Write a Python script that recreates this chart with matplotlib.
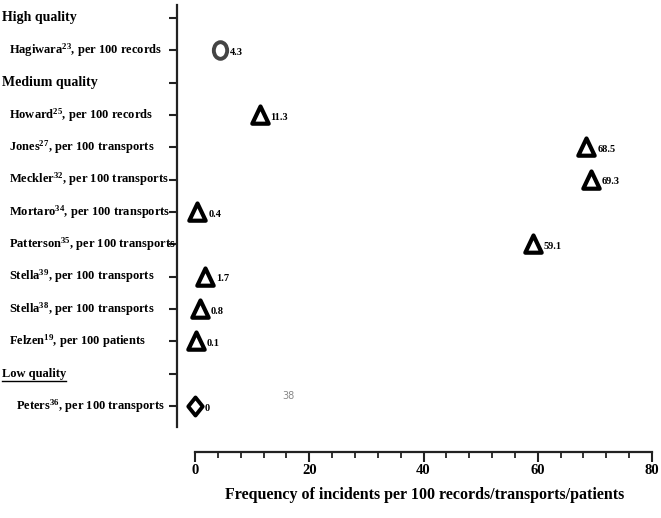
import matplotlib
matplotlib.use("Agg")
import matplotlib.pyplot as plt
from matplotlib import transforms
from matplotlib.lines import Line2D
from matplotlib.path import Path
from matplotlib.transforms import Affine2D

plt.rcParams['font.family'] = ['Liberation Serif', 'DejaVu Serif']
plt.rcParams['font.weight'] = 'bold'
plt.rcParams['mathtext.fontset'] = 'custom'
plt.rcParams['mathtext.rm'] = 'Liberation Serif:bold'
plt.rcParams['mathtext.bf'] = 'Liberation Serif:bold'
plt.rcParams['mathtext.it'] = 'Liberation Serif:bold'

# ---- data ----
row_labels = [
    "High quality",
    r"Hagiwara$^{23}$, per 100 records",
    "Medium quality",
    r"Howard$^{25}$, per 100 records",
    r"Jones$^{27}$, per 100 transports",
    r"Meckler$^{32}$, per 100 transports",
    r"Mortaro$^{34}$, per 100 transports",
    r"Patterson$^{35}$, per 100 transports",
    r"Stella$^{39}$, per 100 transports",
    r"Stella$^{38}$, per 100 transports",
    r"Felzen$^{19}$, per 100 patients",
    "Low quality",
    r"Peters$^{36}$, per 100 transports",
]
header_rows = [0, 2, 11]

high_rows = [1]
high_values = [4.3]
high_texts = ["4.3"]

medium_rows = [3, 4, 5, 6, 7, 8, 9, 10]
medium_values = [11.3, 68.5, 69.3, 0.4, 59.1, 1.7, 0.8, 0.1]
medium_texts = ["11.3", "68.5", "69.3", "0.4", "59.1", "1.7", "0.8", "0.1"]

low_rows = [12]
low_values = [0]
low_texts = ["0"]

x_ticks = [0, 20, 40, 60, 80]
x_label = "Frequency of incidents per 100 records/transports/patients"

# ---- marker shapes (slightly tall) ----
tri_marker = Path([(0, 1.1), (-1, -1), (1, -1), (0, 1.1)],
                  [Path.MOVETO, Path.LINETO, Path.LINETO, Path.CLOSEPOLY])
ell_marker = Path.unit_circle().transformed(Affine2D().scale(0.8, 1.0))
dia_marker = Path([(0, 1), (0.8, 0), (0, -1), (-0.8, 0), (0, 1)],
                  [Path.MOVETO, Path.LINETO, Path.LINETO, Path.LINETO, Path.CLOSEPOLY])

# ---- figure ----
W, H = 661, 518
fig = plt.figure(figsize=(W / 100, H / 100), dpi=100)
ax_left, ax_right, ax_top, ax_bot = 177, 652, 5, 452
ax = fig.add_axes([ax_left / W, 1 - ax_bot / H, (ax_right - ax_left) / W, (ax_bot - ax_top) / H])

row0_px, row_step = 18, 32.33
ax.set_ylim((ax_bot - row0_px) / row_step, (ax_top - row0_px) / row_step)
ax.set_xlim(-18 / (457 / 80), 80)

for s in ['top', 'right']:
    ax.spines[s].set_visible(False)
ax.spines['left'].set_bounds(-0.4, (427 - row0_px) / row_step)
ax.spines['bottom'].set_bounds(0, 80)
for s in ['left', 'bottom']:
    ax.spines[s].set_linewidth(1.6)
    ax.spines[s].set_color('#222222')

ax.set_yticks(range(len(row_labels)))
ax.set_yticklabels([])
ax.tick_params(axis='y', length=6, width=1.5, color='#222222', direction='out')
ax.set_xticks(x_ticks)
ax.set_xticks(range(0, 81, 4), minor=True)
ax.set_xticklabels([str(t) for t in x_ticks], fontsize=10.5, fontweight='bold')
ax.tick_params(axis='x', which='major', length=7, width=1.5, color='#222222', pad=2)
ax.tick_params(axis='x', which='minor', length=4, width=1.3, color='#222222')
ax.set_xlabel(x_label, fontsize=11.5, fontweight='bold')
ax.xaxis.set_label_coords((425 - ax_left) / (ax_right - ax_left),
                          (ax_bot - 487) / (ax_bot - ax_top))

# markers
ax.plot(high_values, high_rows, linestyle='none', marker=ell_marker, markersize=12,
        markerfacecolor='white', markeredgecolor='#444444', markeredgewidth=2.8, clip_on=False)
ax.plot(medium_values, medium_rows, linestyle='none', marker=tri_marker, markersize=13,
        markerfacecolor='white', markeredgecolor='black', markeredgewidth=3.0, clip_on=False)
ax.plot(low_values, low_rows, linestyle='none', marker=dia_marker, markersize=13,
        markerfacecolor='white', markeredgecolor='black', markeredgewidth=2.8, clip_on=False)

for vals, rows, txts, dx in [(high_values, high_rows, high_texts, 7.5),
                             (medium_values, medium_rows, medium_texts, 8),
                             (low_values, low_rows, low_texts, 7)]:
    for v, r, t in zip(vals, rows, txts):
        ax.annotate(t, (v, r), xytext=(dx, -1.5), textcoords='offset points',
                    ha='left', va='center', fontsize=7.5, fontweight='bold')

# row labels
trans = transforms.blended_transform_factory(fig.transFigure, ax.transData)
low_text = None
for i, lab in enumerate(row_labels):
    if i in header_rows:
        fs = 10 if i != 11 else 9
        t = ax.text(2 / W, i, lab, transform=trans, ha='left', va='center',
                    fontsize=fs, fontweight='bold')
        if i == 11:
            low_text = t
    else:
        x0 = 16 if i == 12 else 9
        ax.text(x0 / W, i, lab, transform=trans, ha='left', va='center',
                fontsize=9, fontweight='bold')

fig.canvas.draw()
bb = low_text.get_window_extent()
fig.add_artist(Line2D([bb.x0 / W, bb.x1 / W], [(bb.y0 - 1) / H, (bb.y0 - 1) / H],
                      transform=fig.transFigure, color='black', linewidth=1))

fig.text(288 / W, 1 - 396 / H, "38", fontsize=7, color='#888888',
         family='DejaVu Sans', fontweight='normal', ha='center', va='center')

fig.savefig("out.png", dpi=100, facecolor='white')
